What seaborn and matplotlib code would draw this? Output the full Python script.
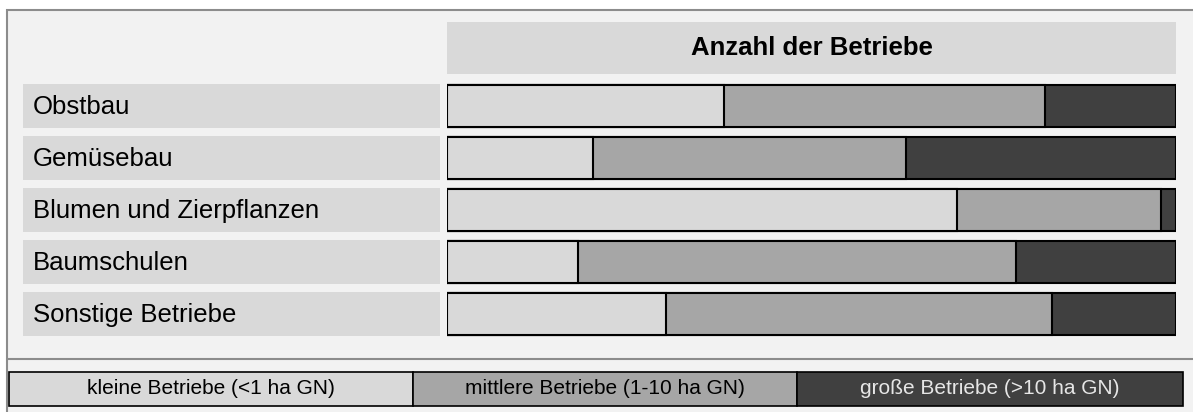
import matplotlib
matplotlib.use("Agg")
import matplotlib.pyplot as plt
import matplotlib.transforms as mtransforms
from matplotlib.patches import Rectangle
import seaborn as sns

# --- DATEN ---
kategorien = ["Obstbau", "Gemüsebau", "Blumen und Zierpflanzen", "Baumschulen", "Sonstige Betriebe"]
klein = [38, 20, 70, 18, 30]
mittel = [44, 43, 28, 60, 53]
gross = [18, 37, 2, 22, 17]
legende = ["kleine Betriebe (<1 ha GN)", "mittlere Betriebe (1-10 ha GN)", "große Betriebe (>10 ha GN)"]
titel = "Anzahl der Betriebe"

farben = ["#d9d9d9", "#a6a6a6", "#404040"]
textfarben = ["black", "black", "#e6e6e6"]

sns.set_style("white")
plt.rcParams["font.family"] = ["Liberation Sans", "DejaVu Sans"]
plt.rcParams["text.color"] = "black"

W, H = 1193, 412
fig = plt.figure(figsize=(W / 100, H / 100), dpi=100)
fig.patch.set_facecolor("white")


def px(x, y, w, h):
    # Pixel (von oben) -> Figure-Koordinaten
    return (x / W, 1 - (y + h) / H), w / W, h / H


# Hintergrund-Panel mit Rahmen
(x0, y0), w0, h0 = px(7, 10, W, H)
fig.add_artist(Rectangle((x0, y0), w0, h0, transform=fig.transFigure, zorder=-10,
                         facecolor="#f2f2f2", edgecolor="#8c8c8c", linewidth=1.5))
fig.add_artist(plt.Line2D([7 / W, 1], [1 - 359 / H] * 2, transform=fig.transFigure,
                          color="#8c8c8c", linewidth=1.5, zorder=-9))

# Kopfzeile
(hx, hy), hw, hh = px(447, 22, 729, 52)
fig.add_artist(Rectangle((hx, hy), hw, hh, transform=fig.transFigure, zorder=-8,
                         facecolor="#d9d9d9", edgecolor="none"))
fig.text(hx + hw / 2, hy + hh / 2, titel, ha="center", va="center",
         fontsize=18.5, fontweight="bold", color="black")

# --- BALKEN ---
ax = fig.add_axes([447 / W, 1 - 340 / H, 729 / W, 260 / H])
ax.patch.set_alpha(0)
kum2 = [a + b for a, b in zip(klein, mittel)]
kum3 = [a + b + c for a, b, c in zip(klein, mittel, gross)]
for werte, farbe in [(kum3, farben[2]), (kum2, farben[1]), (klein, farben[0])]:
    sns.barplot(x=werte, y=kategorien, orient="h", color=farbe, width=0.82,
                edgecolor="black", linewidth=1.5, saturation=1, ax=ax)
ax.set_xlim(0, 100)
ax.set_ylim(4.5, -0.5)
ax.set_xticks([])
ax.set_yticks([])
ax.set_xlabel("")
ax.set_ylabel("")
sns.despine(ax=ax, left=True, bottom=True)

# Beschriftungsfelder links
trans = mtransforms.blended_transform_factory(fig.transFigure, ax.transData)
for i, name in enumerate(kategorien):
    ax.add_patch(Rectangle((23 / W, i - 0.43), 417 / W, 0.86, transform=trans,
                           facecolor="#d9d9d9", edgecolor="none", clip_on=False))
    ax.text(33 / W, i + 0.02, name, transform=trans, ha="left", va="center",
            fontsize=18.5, color="black", clip_on=False)

# --- LEGENDE ---
kanten = [9, 413, 797, 1183]
for j, txt in enumerate(legende):
    (lx, ly), lw, lh = px(kanten[j], 372, kanten[j + 1] - kanten[j], 34)
    fig.add_artist(Rectangle((lx, ly), lw, lh, transform=fig.transFigure,
                             facecolor=farben[j], edgecolor="black", linewidth=1.2))
    fig.text(lx + lw / 2, ly + lh / 2, txt, ha="center", va="center",
             fontsize=15, color=textfarben[j])

fig.savefig("out.png", dpi=100)
